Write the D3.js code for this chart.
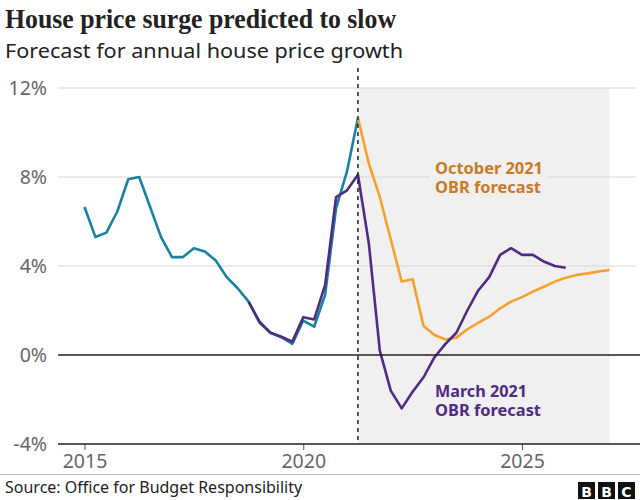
<!DOCTYPE html>
<html>
<head>
<meta charset="utf-8">
<script src="https://cdn.jsdelivr.net/npm/d3@7"></script>
<style>
  html, body { margin: 0; padding: 0; background: #fff; }
  svg { display: block; }
</style>
</head>
<body>
<svg id="chart" width="640" height="500"></svg>
<script>
// ---- Data ----
const actualStart = 2015.0;
const actualValues = [6.65, 5.3, 5.5, 6.45, 7.9, 8.0, 6.65, 5.3, 4.4, 4.4, 4.8, 4.65, 4.25, 3.5, 3.0, 2.4,
                      1.45, 1.0, 0.8, 0.5, 1.55, 1.27, 2.7, 6.6, 8.25, 10.65];
const marchStart = 2018.75;
const marchValues = [2.4, 1.5, 1.0, 0.82, 0.6, 1.7, 1.6, 3.15, 7.1, 7.4, 8.1,
                     5.0, 0.2, -1.6, -2.4, -1.65, -1.0, -0.1, 0.5, 1.0, 2.0, 2.9, 3.5, 4.5, 4.8,
                     4.5, 4.5, 4.2, 4.0, 3.92];
const octStart = 2021.25;
const octValues = [10.65, 8.6, 7.1, 5.2, 3.3, 3.4, 1.3, 0.9, 0.7, 0.78, 1.15, 1.45, 1.72, 2.1, 2.4,
                   2.6, 2.85, 3.07, 3.3, 3.47, 3.6, 3.67, 3.75, 3.82];
const forecastPeriod = [2021.25, 2027.0];
const yTicks = [-4, 0, 4, 8, 12];
const xTicks = [2015, 2020, 2025];
const title = "House price surge predicted to slow";
const subtitle = "Forecast for annual house price growth";
const source = "Source: Office for Budget Responsibility";
const octLabel = ["October 2021", "OBR forecast"];
const marchLabel = ["March 2021", "OBR forecast"];

const toPoints = (start, vals) => vals.map((v, i) => ({ t: start + i * 0.25, v }));
const actual = toPoints(actualStart, actualValues);
const march = toPoints(marchStart, marchValues);
const oct = toPoints(octStart, octValues);

// ---- Layout ----
const svg = d3.select("#chart");
const x = d3.scaleLinear().domain([2015, 2025]).range([84.5, 522]);
const y = d3.scaleLinear().domain([-4, 12]).range([444, 88]);
const gridLeft = 58, gridRight = 636;

const colTeal = "#1a82a0", colPurple = "#4e2c83", colOrange = "#f4a12e", colOrangeText = "#c97a24";
const sans = "'Noto Sans', 'Open Sans', sans-serif";

// fit a text element's width to a target (to mimic the original typeface's width)
function fitWidth(sel, target) {
  const w = sel.node().getComputedTextLength();
  if (Math.abs(w - target) > 1) sel.attr("textLength", target).attr("lengthAdjust", "spacingAndGlyphs");
  return sel;
}

// Title / subtitle
fitWidth(svg.append("text").attr("x", 5).attr("y", 28)
  .attr("font-family", "'Liberation Serif', serif").attr("font-weight", "bold")
  .attr("font-size", 27).attr("fill", "#222").text(title), 391);
fitWidth(svg.append("text").attr("x", 5).attr("y", 58)
  .attr("font-family", sans).attr("font-size", 19).attr("fill", "#222").text(subtitle), 398);

// Forecast shading
svg.append("rect")
  .attr("x", x(forecastPeriod[0])).attr("y", y(12))
  .attr("width", x(forecastPeriod[1]) - x(forecastPeriod[0]))
  .attr("height", y(-4) - y(12))
  .attr("fill", "#f0f0f0");

// Gridlines
svg.append("g").selectAll("line").data(yTicks.filter(d => d > 0)).join("line")
  .attr("x1", gridLeft).attr("x2", gridRight)
  .attr("y1", d => y(d)).attr("y2", d => y(d))
  .attr("stroke", "#d6d6d6").attr("stroke-width", 1);

// Y labels
svg.append("g").selectAll("text").data(yTicks).join("text")
  .attr("x", 47).attr("y", d => y(d)).attr("dy", "0.35em")
  .attr("text-anchor", "end").attr("font-family", sans).attr("font-size", 19.5)
  .attr("fill", "#666").text(d => d + "%");

// X axis (bottom)
const xAxis = d3.axisBottom(x).tickValues(xTicks).tickFormat(d3.format("d")).tickSize(6).tickPadding(4);
const gx = svg.append("g").attr("transform", `translate(0,${y(-4)})`).call(xAxis);
gx.select(".domain").remove();
gx.selectAll(".tick line").attr("stroke", "#555");
gx.selectAll(".tick text").attr("font-family", sans).attr("font-size", 19.5).attr("fill", "#666");

// Label background box (hides gridline behind the October label)
svg.append("rect").attr("x", 430).attr("y", 157).attr("width", 118).attr("height", 42).attr("fill", "#f0f0f0");

// Lines
const line = d3.line().x(d => x(d.t)).y(d => y(d.v));
svg.append("path").datum(actual).attr("d", line).attr("fill", "none")
  .attr("stroke", colTeal).attr("stroke-width", 2.6).attr("stroke-linejoin", "round");
svg.append("path").datum(oct).attr("d", line).attr("fill", "none")
  .attr("stroke", colOrange).attr("stroke-width", 2.6).attr("stroke-linejoin", "round");
svg.append("path").datum(march).attr("d", line).attr("fill", "none")
  .attr("stroke", colPurple).attr("stroke-width", 2.6).attr("stroke-linejoin", "round");

// Zero line and bottom axis line
[0, -4].forEach(v => {
  svg.append("line").attr("x1", gridLeft).attr("x2", 640)
    .attr("y1", y(v)).attr("y2", y(v)).attr("stroke", "#222").attr("stroke-width", 1.6);
});

// Dashed forecast divider
svg.append("line").attr("x1", x(forecastPeriod[0])).attr("x2", x(forecastPeriod[0]))
  .attr("y1", 68).attr("y2", y(-4))
  .attr("stroke", "#222").attr("stroke-width", 1.5).attr("stroke-dasharray", "4,4");

// Series labels (one text element per line)
function label(lines, widths, xPos, yPos, color) {
  lines.forEach((s, i) => {
    fitWidth(svg.append("text").attr("x", xPos).attr("y", yPos + i * 19)
      .attr("font-family", sans).attr("font-weight", "bold").attr("font-size", 16)
      .attr("fill", color).text(s), widths[i]);
  });
}
label(octLabel, [108, 106], 435, 174, colOrangeText);
label(marchLabel, [92, 106], 435, 397, colPurple);

// Footer
svg.append("line").attr("x1", 0).attr("x2", 640).attr("y1", 474.5).attr("y2", 474.5)
  .attr("stroke", "#bbb").attr("stroke-width", 1);
fitWidth(svg.append("text").attr("x", 5).attr("y", 493).attr("font-family", sans)
  .attr("font-size", 16).attr("fill", "#222").text(source), 297);

// BBC logo
const logo = svg.append("g").attr("transform", "translate(578,482)");
["B", "B", "C"].forEach((ch, i) => {
  logo.append("rect").attr("x", i * 20).attr("y", 0).attr("width", 17).attr("height", 17).attr("fill", "#111");
  logo.append("text").attr("x", i * 20 + 8.5).attr("y", 14.5).attr("text-anchor", "middle")
    .attr("font-family", "'DejaVu Sans', sans-serif").attr("font-weight", "bold")
    .attr("font-size", 14).attr("fill", "#fff").text(ch);
});
</script>
</body>
</html>
